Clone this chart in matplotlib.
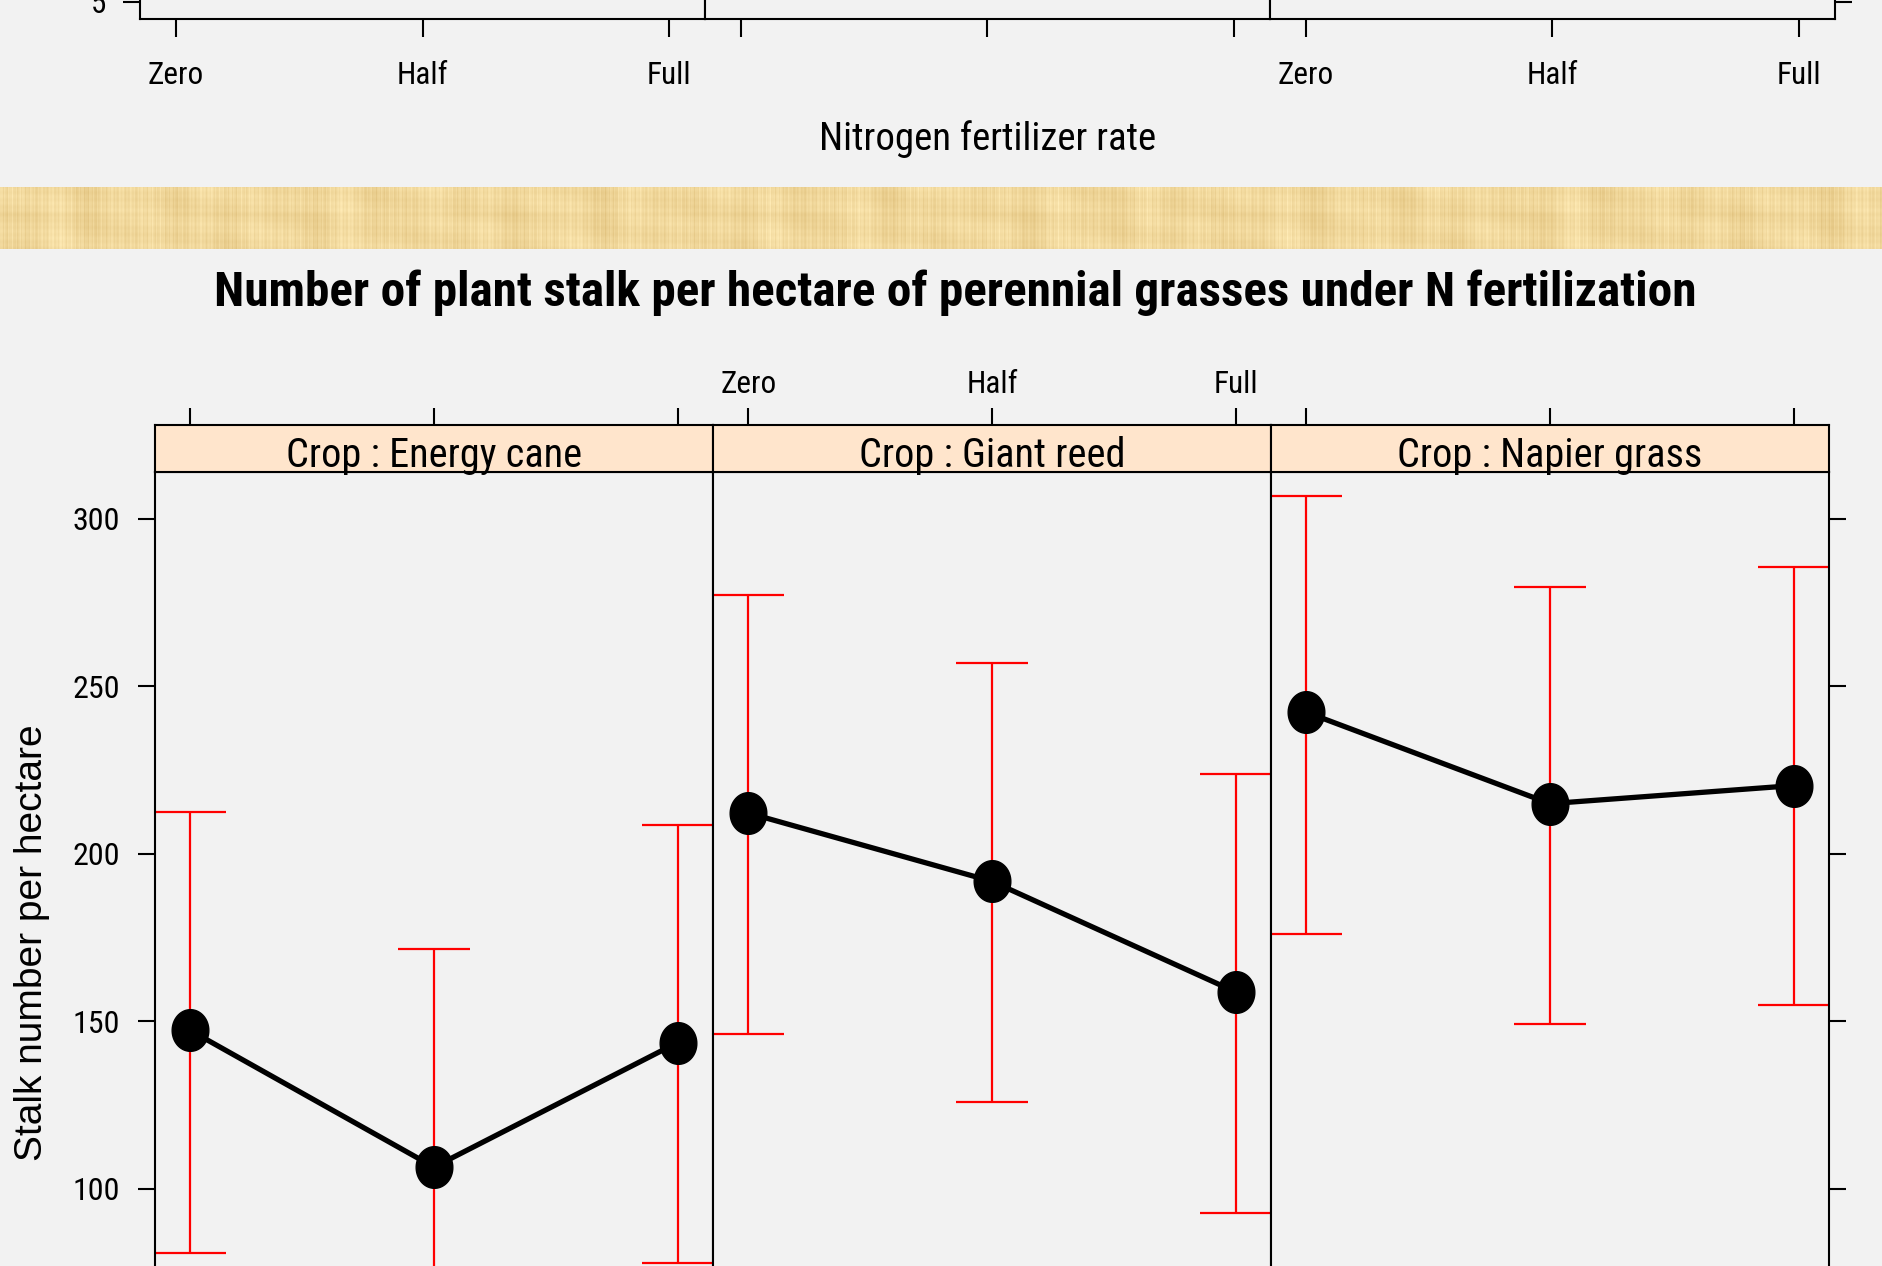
import os
import numpy as np
import matplotlib
matplotlib.use("Agg")
import matplotlib.pyplot as plt
from matplotlib import font_manager as fm
from matplotlib.path import Path

# ---------------- data ----------------
crops = ["Energy cane", "Giant reed", "Napier grass"]
n_levels = ["Zero", "Half", "Full"]

stalk_mean = {
    "Energy cane":  [147.3, 106.5, 143.7],
    "Giant reed":   [212.2, 191.8, 158.8],
    "Napier grass": [242.3, 215.0, 220.4],
}
stalk_lower = {
    "Energy cane":  [81.0, 41.5, 78.0],
    "Giant reed":   [146.2, 125.8, 92.8],
    "Napier grass": [176.0, 149.1, 154.8],
}
stalk_upper = {
    "Energy cane":  [212.5, 171.7, 208.6],
    "Giant reed":   [277.4, 257.0, 224.0],
    "Napier grass": [306.8, 279.6, 285.7],
}
y_ticks = [100, 150, 200, 250, 300]
prev_y_ticks = [5]

# ---------------- fonts ----------------
def find_condensed(weight):
    prefs = ["Liberation Sans Narrow", "Arial Narrow", "Noto Sans", "Roboto",
             "Open Sans", "DejaVu Sans", "Lato", "Inter"]
    cands = []
    for f in fm.fontManager.ttflist:
        base = os.path.basename(f.fname).lower()
        if f.style != "normal":
            continue
        if not (f.stretch == "condensed" or "narrow" in base or "condensed" in base):
            continue
        if any(w in base for w in ("extra", "ultra", "semi")):
            continue
        w = f.weight if isinstance(f.weight, int) else (700 if "bold" in str(f.weight) else 400)
        if abs(w - weight) > 50:
            continue
        rank = next((k for k, p in enumerate(prefs) if f.name.startswith(p)), len(prefs))
        cands.append((rank, f.fname))
    cands.sort()
    return cands[0][1] if cands else None

reg_file = find_condensed(400)
bold_file = find_condensed(700)
if reg_file:
    nscale = 1.0
else:
    nscale = 0.9

def narrow(size, bold=False):
    f = bold_file if bold else reg_file
    if f:
        return fm.FontProperties(fname=f, size=size)
    return fm.FontProperties(family="Liberation Sans", size=size * nscale,
                             weight="bold" if bold else "normal")

REG = fm.FontProperties(family="Liberation Sans", size=28)

# ---------------- figure ----------------
W, H = 1883, 1266
BG = "#F2F2F2"
fig = plt.figure(figsize=(W / 100, H / 100), dpi=100, facecolor=BG)

def ax_px(left, top, width, height, **kw):
    return fig.add_axes([left / W, 1 - (top + height) / H, width / W, height / H], **kw)

def style_labels(labels, fp):
    for lab in labels:
        lab.set_fontproperties(fp)

xpos = np.arange(1, len(n_levels) + 1)
xpad = 0.145
xlim = (1 - xpad, len(n_levels) + xpad)
TICK_LEN = 12
LW_FRAME = 1.5

# ---- lower edge of the preceding lattice figure ----
p_left, p_w, p_bottom, p_h = 140, 565, 19, 600
for i in range(3):
    ax = ax_px(p_left + i * p_w, p_bottom - p_h, p_w, p_h, facecolor=BG)
    ax.set_xlim(*xlim)
    ax.set_ylim(4.433, 24.433)
    for s in ax.spines.values():
        s.set_linewidth(LW_FRAME)
    ax.set_xticks(xpos)
    ax.set_xticklabels(n_levels)
    ax.tick_params(axis="x", direction="out", length=13, width=1.5, pad=17,
                   bottom=True, labelbottom=(i != 1))
    style_labels(ax.get_xticklabels(), narrow(22.5))
    ax.set_yticks(prev_y_ticks)
    ax.tick_params(axis="y", direction="out", length=12, width=1.5, pad=12,
                   left=(i == 0), labelleft=(i == 0), right=(i == 2), labelright=False)
    style_labels(ax.get_yticklabels(), narrow(22.5))
fig.text((140 + 140 + 3 * p_w) / 2 / W, 1 - 150 / H, "Nitrogen fertilizer rate",
         ha="center", va="baseline", fontproperties=narrow(28))

# ---- papyrus separator band ----
bw, bh = 1883, 62
xx = np.arange(bw)[None, :]
yy = np.arange(bh)[:, None]
fib = (0.35 * np.sin(xx * 1.7) + 0.25 * np.sin(xx * 0.63 + 0.8)
       + 0.2 * np.sin(xx * 3.1 + 2.0) + 0.4 * np.sin(xx * 0.11 + 1.3) * np.sin(xx * 0.023))
mott = 0.5 * np.sin(xx / 55.0 + yy / 14.0) * np.cos(xx / 23.0 - yy / 9.0)
rows = 0.2 * np.sin(yy * 0.9) - 0.5 * np.exp(-((yy - 28) / 2.5) ** 2)
v = 0.6 * fib + 0.5 * mott + 0.4 * rows
base = np.array([241, 216, 156]) / 255
amp = np.array([16, 22, 30]) / 255
band = np.clip(base + v[..., None] * amp, 0, 1)
axb = ax_px(0, 187, W, 62)
axb.imshow(band, aspect="auto", interpolation="bilinear")
axb.set_axis_off()

# ---- title ----
fig.text(955 / W, 1 - 306 / H,
         "Number of plant stalk per hectare of perennial grasses under N fertilization",
         ha="center", va="baseline", fontproperties=narrow(35.5, bold=True))

# ---- stalk number panels ----
x0, pw = 155, 558
strip_top, strip_h = 425, 47
panel_top = strip_top + strip_h
ylim = (30, 314)
panel_h = (ylim[1] - ylim[0]) * 3.35

t = np.linspace(0, 2 * np.pi, 72)
dot = Path(np.column_stack([0.88 * np.cos(t), np.sin(t)]))
cap = 0.147

for i, crop in enumerate(crops):
    ax = ax_px(x0 + i * pw, panel_top, pw, panel_h, facecolor=BG)
    ax.set_xlim(*xlim)
    ax.set_ylim(*ylim)
    for s in ax.spines.values():
        s.set_linewidth(LW_FRAME)
    lo = np.array(stalk_lower[crop])
    hi = np.array(stalk_upper[crop])
    mu = np.array(stalk_mean[crop])
    ax.vlines(xpos, lo, hi, color="red", lw=1.6, zorder=2)
    ax.hlines(lo, xpos - cap, xpos + cap, color="red", lw=1.6, zorder=2)
    ax.hlines(hi, xpos - cap, xpos + cap, color="red", lw=1.6, zorder=2)
    ax.plot(xpos, mu, color="black", lw=3.8, marker=dot, ms=30,
            markerfacecolor="black", markeredgecolor="black", zorder=3)
    ax.set_xticks([])
    ax.set_yticks(y_ticks)
    ax.tick_params(axis="y", direction="out", length=TICK_LEN, width=1.5, pad=13,
                   left=(i == 0), labelleft=(i == 0), right=(i == 2), labelright=False)
    style_labels(ax.get_yticklabels(), narrow(23))

    # strip with the crop name
    sx = ax_px(x0 + i * pw, strip_top, pw, strip_h, facecolor="#FFE5CC")
    sx.set_xlim(*xlim)
    sx.set_ylim(0, 1)
    for s in sx.spines.values():
        s.set_linewidth(LW_FRAME)
    sx.set_yticks([])
    sx.set_xticks(xpos)
    sx.set_xticklabels(n_levels)
    sx.tick_params(axis="x", direction="out", length=TICK_LEN, width=1.5, pad=7,
                   bottom=False, labelbottom=False, top=True, labeltop=(i == 1))
    style_labels(sx.get_xticklabels(), narrow(22.5))
    sx.text(0.5, 5 / strip_h, f"Crop : {crop}", transform=sx.transAxes,
            ha="center", va="baseline", fontproperties=narrow(29))

fig.text(32 / W, 1 - 943 / H, "Stalk number per hectare", rotation=90,
         ha="center", va="center", fontproperties=REG)

fig.savefig("out.png", dpi=100, facecolor=BG)
